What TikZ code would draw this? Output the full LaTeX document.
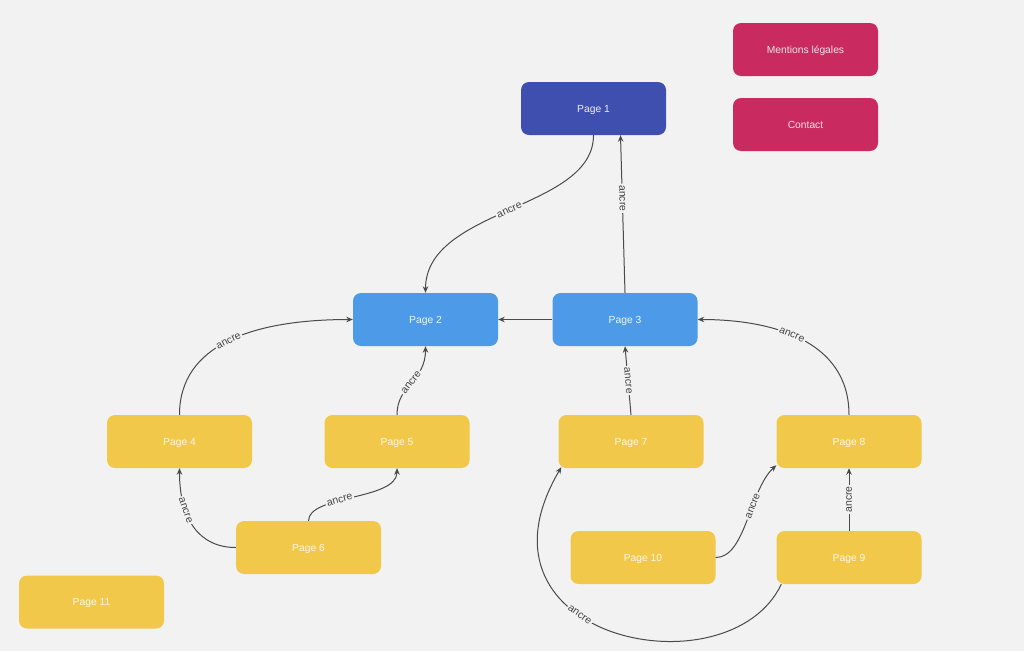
\documentclass[tikz,border=0pt]{standalone}
\usepackage{fontspec}
\setmainfont{Liberation Sans}
\usetikzlibrary{arrows.meta}
\definecolor{bg}{HTML}{F2F2F2}
\definecolor{darkblue}{HTML}{3F4FAF}
\definecolor{lightblue}{HTML}{4D9BE8}
\definecolor{yellowbox}{HTML}{F2C84B}
\definecolor{pinkbox}{HTML}{C92B60}
\definecolor{linecol}{HTML}{4A4A4A}
\definecolor{labcol}{HTML}{444444}
\tikzset{
  pagebox/.style={rectangle, rounded corners=8pt, minimum width=145pt, minimum height=53pt, inner sep=0pt, text height=7.4pt, text depth=0pt, font=\fontsize{10.3}{12}\selectfont},
  topbox/.style={pagebox, fill=darkblue, text=white!90!darkblue},
  midbox/.style={pagebox, fill=lightblue, text=white!90!lightblue},
  lowbox/.style={pagebox, fill=yellowbox, text=white!88!yellowbox},
  sidebox/.style={pagebox, fill=pinkbox, text=white!85!pinkbox},
  link/.style={draw=linecol, line width=1pt, -{Stealth[length=6.5pt,width=5.5pt]}},
  lbl/.style={fill=bg, text=labcol, inner sep=1.5pt, font=\fontsize{10.5}{12}\selectfont, sloped}
}
\begin{document}
\begin{tikzpicture}[x=1pt,y=-1pt]
\fill[bg] (0,0) rectangle (1024,651);
\useasboundingbox (0,0) rectangle (1024,651);

\node[topbox] (p1) at (593.5,108.5) {Page 1};
\node[sidebox] (ml) at (805.5,49.5) {Mentions légales};
\node[sidebox] (ct) at (805.5,124.5) {Contact};
\node[midbox] (p2) at (425.5,319.5) {Page 2};
\node[midbox] (p3) at (625,319.5) {Page 3};
\node[lowbox] (p4) at (179.5,441.5) {Page 4};
\node[lowbox] (p5) at (397,441.5) {Page 5};
\node[lowbox] (p7) at (631,441.5) {Page 7};
\node[lowbox] (p8) at (849,441.5) {Page 8};
\node[lowbox] (p6) at (308.5,547.5) {Page 6};
\node[lowbox] (p10) at (643,557.5) {Page 10};
\node[lowbox] (p9) at (849,557.5) {Page 9};
\node[lowbox] (p11) at (91.5,602) {Page 11};

\draw[link] (p1.south) .. controls +(0,75) and +(0,-85) .. node[lbl, pos=0.5] {ancre} (p2.north);
\draw[link] (p3.north) -- node[lbl, pos=0.6] {ancre} ([xshift=27pt]p1.south);
\draw[link] (p3.west) -- (p2.east);
\draw[link] (p4.north) .. controls +(0,-70) and +(-100,0) .. node[lbl, pos=0.5] {ancre} (p2.west);
\draw[link] (p5.north) .. controls +(0,-30) and +(0,35) .. node[lbl, pos=0.5] {ancre} (p2.south);
\draw[link] (p7.north) -- node[lbl, pos=0.5] {ancre} (p3.south);
\draw[link] (p8.north) .. controls +(0,-75) and +(73,0) .. node[lbl, pos=0.55] {ancre} (p3.east);
\draw[link] (p6.west) .. controls +(-36,0) and +(0,52) .. node[lbl, pos=0.68] {ancre} (p4.south);
\draw[link] (p6.north) .. controls +(0,-26) and +(0,32) .. node[lbl, pos=0.4] {ancre} (p5.south);
\draw[link] (p10.east) .. controls +(30,0) and +(-27,25) .. node[lbl, pos=0.62] {ancre} ([yshift=3pt]p8.south west);
\draw[link] (p9.north) -- node[lbl, pos=0.5] {ancre} (p8.south);
\draw[link] ([xshift=5pt]p9.south west) .. controls +(-52,110) and +(-102,173) .. node[lbl, pos=0.6] {ancre} ([xshift=3pt,yshift=1pt]p7.south west);
\end{tikzpicture}
\end{document}
